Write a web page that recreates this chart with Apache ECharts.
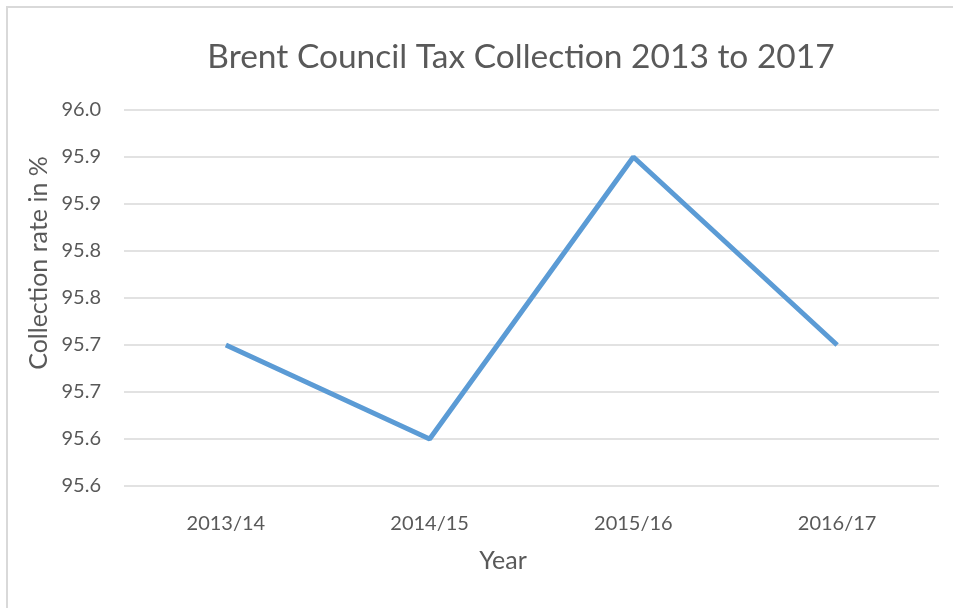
<!DOCTYPE html>
<html><head><meta charset="utf-8">
<script src="https://cdn.jsdelivr.net/npm/echarts@6/dist/echarts.min.js"></script>
<style>html,body{margin:0;padding:0;background:#fff}#c{width:953px;height:608px}</style>
</head><body><div id="c"></div>
<script>
const categories = ['2013/14', '2014/15', '2015/16', '2016/17'];
const collectionRate = [95.70, 95.60, 95.90, 95.70];
const yMin = 95.55, yMax = 95.95, yStep = 0.05;
const FONT = 'Lato';
const chart = echarts.init(document.getElementById('c'), null, {renderer: 'canvas'});
chart.setOption({
  animation: false,
  backgroundColor: '#fff',
  grid: {left: 124, right: 14, top: 110, bottom: 122},
  graphic: [
    {type: 'rect', shape: {x: 7, y: 7, width: 1000, height: 700}, style: {fill: 'none', stroke: '#d9d9d9', lineWidth: 2}, silent: true},
    {type: 'text', x: 521, y: 57, style: {text: 'Brent Council Tax Collection 2013 to 2017', font: '33.5px ' + FONT, fill: '#595959', textAlign: 'center', textVerticalAlign: 'middle'}},
    {type: 'text', x: 503, y: 561, style: {text: 'Year', font: '25px ' + FONT, fill: '#595959', textAlign: 'center', textVerticalAlign: 'middle'}},
    {type: 'text', x: 39, y: 263, rotation: Math.PI / 2, style: {text: 'Collection rate in %', font: '25px ' + FONT, fill: '#595959', textAlign: 'center', textVerticalAlign: 'middle'}}
  ],
  xAxis: {
    type: 'category', data: categories, boundaryGap: true,
    axisLine: {show: false}, axisTick: {show: false},
    axisLabel: {color: '#595959', fontFamily: FONT, fontSize: 20, margin: 28}
  },
  yAxis: {
    type: 'value', min: yMin, max: yMax, interval: yStep,
    axisLine: {show: false}, axisTick: {show: false},
    splitLine: {lineStyle: {color: '#d9d9d9', width: 1.5}},
    axisLabel: {color: '#595959', fontFamily: FONT, fontSize: 20, margin: 23,
      formatter: v => (Math.round(v * 10 + 1e-6) / 10).toFixed(1)}
  },
  series: [{
    type: 'line', data: collectionRate, showSymbol: false, symbol: 'none',
    lineStyle: {color: '#5B9BD5', width: 5}, itemStyle: {color: '#5B9BD5'}
  }]
});
</script></body></html>
